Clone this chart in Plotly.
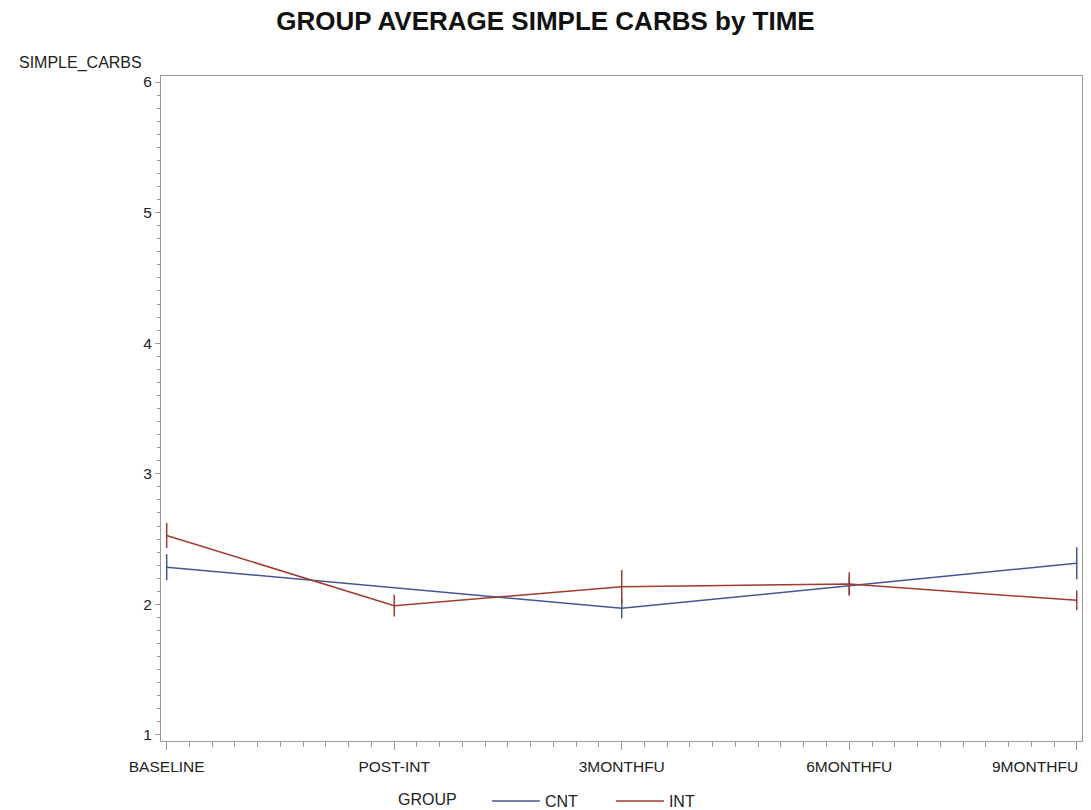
import plotly.graph_objects as go

categories = ["BASELINE", "POST-INT", "3MONTHFU", "6MONTHFU", "9MONTHFU"]
cnt_mean = [2.285, None, 1.970, 2.143, 2.315]
cnt_err = [0.10, None, 0.077, 0.07, 0.122]
int_mean = [2.528, 1.99, 2.136, 2.156, 2.031]
int_err = [0.096, 0.083, 0.127, 0.09, 0.076]
y_ticks = [1, 2, 3, 4, 5, 6]

BLUE = "#445694"
RED = "#A23A2E"
AXIS = "#9a9a9a"
FONT = "Liberation Sans, Arial, sans-serif"
TXT = "#222"

xs = list(range(len(categories)))
# last label is right-aligned to its tick (drawn as annotation so it stays inside the page)
ticktext = categories[:-1] + [""]

fig = go.Figure()
fig.add_trace(go.Scatter(
    x=xs, y=cnt_mean, name="CNT", mode="lines", connectgaps=True,
    line=dict(color=BLUE, width=1.5),
    error_y=dict(type="data", array=cnt_err, width=0, thickness=1.5, color=BLUE),
))
fig.add_trace(go.Scatter(
    x=xs, y=int_mean, name="INT", mode="lines", connectgaps=True,
    line=dict(color=RED, width=1.5),
    error_y=dict(type="data", array=int_err, width=0, thickness=1.5, color=RED),
))

fig.update_layout(
    width=1091, height=810,
    paper_bgcolor="white", plot_bgcolor="white",
    margin=dict(l=161, r=9, t=76, b=69),
    font=dict(family=FONT, size=15.5, color=TXT),
    title=dict(text="<b>GROUP AVERAGE SIMPLE CARBS by TIME</b>",
               x=0.5, xref="container", xanchor="center",
               y=1 - 21 / 810, yref="container", yanchor="middle",
               font=dict(family=FONT, size=26, color="#111")),
    showlegend=True,
    legend=dict(orientation="h",
                title=dict(text="GROUP\u00a0\u00a0\u00a0\u00a0\u00a0", font=dict(size=16)),
                xref="container", x=0.5 + 20 / 1091, xanchor="center",
                yref="container", y=1 - 801 / 810, yanchor="middle",
                font=dict(family=FONT, size=16, color=TXT),
                entrywidth=61, entrywidthmode="pixels",
                itemwidth=48, bgcolor="rgba(0,0,0,0)"),
    xaxis=dict(
        range=[-0.025, 4.023], tickvals=xs, ticktext=ticktext,
        showgrid=False, zeroline=False,
        showline=True, linecolor=AXIS, linewidth=1, mirror=True,
        ticks="outside", ticklen=8, tickcolor=AXIS, tickwidth=1,
        ticklabelstandoff=3,
        minor=dict(dtick=0.1, tick0=0, ticks="outside", ticklen=5, tickcolor=AXIS, showgrid=False),
        tickfont=dict(family=FONT, size=15.5, color=TXT),
    ),
    yaxis=dict(
        range=[0.954, 6.046], tickvals=y_ticks,
        showgrid=False, zeroline=False,
        showline=True, linecolor=AXIS, linewidth=1, mirror=True,
        ticks="outside", ticklen=5, tickcolor=AXIS, tickwidth=1,
        minor=dict(dtick=0.1, tick0=1, ticks="outside", ticklen=3, tickcolor=AXIS, showgrid=False),
        tickfont=dict(family=FONT, size=15.5, color=TXT),
    ),
    annotations=[
        dict(text="SIMPLE_CARBS", xref="paper", yref="paper",
             x=(17 - 161) / 921, y=1 + 13 / 665, xanchor="left", yanchor="middle",
             showarrow=False, font=dict(family=FONT, size=16, color=TXT)),
        dict(text=categories[-1], xref="x", yref="paper",
             x=xs[-1], y=-25 / 665, xanchor="right", yanchor="middle", xshift=3,
             showarrow=False, font=dict(family=FONT, size=15.5, color=TXT)),
    ],
)

fig.write_html("out.html")
